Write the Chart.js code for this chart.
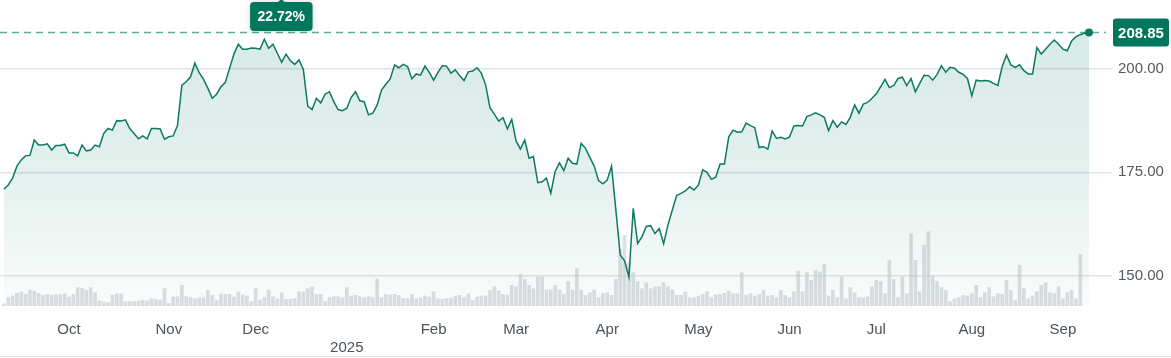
<!DOCTYPE html>
<html>
<head>
<meta charset="utf-8">
<script src="https://cdn.jsdelivr.net/npm/chart.js@4.4.1/dist/chart.umd.min.js"></script>
<style>
  html, body { margin: 0; padding: 0; background: #ffffff; }
  #wrap { position: relative; width: 1171px; height: 358px; }
  canvas { display: block; }
</style>
</head>
<body>
<div id="wrap"><canvas id="c" width="1171" height="358"></canvas></div>
<script>
// ---- Data (one point per trading day, Sep 2024 - Sep 2025) ----
const prices = [
  170.9, 171.9, 173.6, 176.5, 178.0, 179.0, 179.1, 182.8, 181.6, 181.6,
  181.9, 180.4, 181.5, 181.5, 181.8, 179.7, 179.7, 179.0, 181.6, 180.2,
  180.4, 181.6, 181.2, 184.4, 185.6, 185.2, 187.5, 187.4, 187.7, 185.6,
  184.4, 183.1, 183.8, 183.1, 185.6, 185.6, 185.5, 183.0, 183.6, 183.8,
  186.4, 196.1, 196.9, 198.1, 201.4, 199.1, 197.5, 195.3, 192.9, 193.9,
  195.7, 196.7, 200.2, 203.6, 206.0, 204.8, 204.8, 205.1, 205.0, 204.8,
  207.2, 205.0, 206.0, 203.8, 201.6, 203.6, 202.0, 201.1, 202.2, 199.8,
  191.0, 190.2, 192.9, 191.8, 193.9, 194.5, 192.1, 190.2, 189.9, 190.5,
  193.1, 194.5, 192.3, 192.1, 188.9, 189.3, 191.3, 194.9, 196.3, 197.6,
  201.0, 200.3, 201.1, 200.6, 197.6, 198.8, 198.5, 200.7, 199.2, 197.3,
  199.2, 200.8, 200.7, 199.0, 199.8, 198.4, 197.2, 199.3, 199.5, 200.3,
  199.0, 196.1, 190.6, 189.1, 187.4, 188.2, 185.5, 187.8, 182.6, 180.6,
  182.8, 178.4, 178.8, 172.5, 172.7, 173.6, 169.9, 175.2, 177.3, 175.4,
  178.4, 177.2, 177.0, 182.0, 180.8, 178.6, 176.5, 173.0, 172.2, 173.1,
  176.5, 165.8, 155.0, 153.6, 149.7, 166.3, 157.8, 159.4, 161.9, 162.1,
  160.2, 161.4, 157.7, 162.3, 165.9, 169.4, 169.9, 170.5, 171.5, 170.7,
  171.9, 175.6, 175.0, 173.3, 173.8, 177.0, 177.0, 183.6, 185.2, 184.7,
  184.8, 186.9, 186.3, 185.8, 181.0, 181.2, 180.6, 185.0, 183.2, 183.5,
  183.1, 183.5, 186.2, 186.3, 186.2, 188.5, 188.9, 189.4, 188.9, 188.3,
  185.1, 187.5, 185.9, 187.2, 186.6, 188.3, 191.3, 189.3, 191.5, 191.9,
  192.9, 194.0, 195.7, 197.5, 195.5, 196.0, 197.7, 198.0, 196.0, 197.7,
  194.5, 196.5, 198.5, 198.4, 197.3, 198.7, 200.8, 199.2, 200.4, 200.2,
  199.2, 198.7, 197.7, 193.5, 197.3, 197.1, 197.2, 197.1, 196.5, 196.0,
  200.6, 203.4, 201.0, 200.4, 201.0, 199.6, 198.8, 198.8, 205.2, 203.6,
  204.8, 206.0, 207.0, 206.0, 204.8, 204.4, 206.8, 207.8, 208.3, 208.7,
  208.85
];

// volume in millions of shares
const volumes = [
  2.3, 8.3, 10, 12.7, 14, 11.7, 16, 15, 12.7, 10.7,
  11.7, 10.7, 11.3, 11.3, 12.3, 9, 11.7, 18.3, 17.7, 15.7,
  18.3, 13.3, 5, 4, 3.3, 10.7, 12.3, 12, 4.3, 4.3,
  4.7, 5, 5.7, 5, 7.3, 6.7, 6, 17.3, 2.7, 9,
  9.3, 20.7, 9.3, 8.3, 7.3, 8, 8, 15.7, 10.7, 6,
  12, 11.7, 11.7, 9, 14, 11, 10, 4.3, 17.3, 6,
  8.3, 16, 9.3, 7, 13.3, 6.7, 6.7, 7.3, 14.3, 14,
  17.3, 19.3, 11.7, 11.7, 4.3, 8.3, 9.3, 9.3, 8.3, 18.3,
  10, 10.7, 9.3, 8.3, 9.3, 8.3, 27,
  8.3, 11.7, 11, 11.7, 10.7, 7.7, 7.3, 11.7, 7.3, 8.3,
  10, 9, 14.3, 7.3, 6.7, 7.3, 7.7, 10, 10.7, 8.3,
  12, 5.7, 9, 10, 10, 15.7, 19.3, 15, 11.7, 11,
  20.7, 19.3, 31.7, 26.7, 20.7, 17.3, 29.3, 29, 16, 16,
  20.7, 16, 11.7, 24.3, 16, 37.3, 16, 10.7, 13.3, 16,
  8.3, 12.7, 13.3, 10.7, 26.7, 56.7, 70.7, 43.3, 33.3, 24.3,
  17.3, 23.3, 17.3, 19.3, 19.3, 23.3, 19.3, 16, 10.7, 10.7,
  14, 8.3, 8.3, 10, 11.7, 14.3, 8.3, 11, 11.7, 12.7,
  15, 12.3, 12.3, 33.3, 10.7, 12.3, 10, 11.7, 15.7, 10,
  10.7, 8.3,
  15.7, 10.7, 8.3, 14.3, 35, 14.3, 33.3, 25.7, 35.7, 34,
  41.7, 10, 15.7, 8.3, 29, 7.3, 18.3, 13.3, 8.3, 8.3,
  9.3, 19.3, 25.7, 24.3, 12.3, 45.7, 26.7, 8.3, 29, 12.3,
  72.3, 45.7, 14.3, 60.7, 74.3, 29.3, 24.3, 18.3, 15.7, 4.3,
  7.3, 8.3, 10.7, 10, 12.3, 20.7, 8.3, 13.3, 18.3, 9.3,
  12.3, 11.7, 25.7, 15.7, 5.7, 40.7, 17.3, 7.3, 10, 14.3,
  20.7, 23.3, 13.3, 12.3, 19.3, 7.3, 13.3, 15.7, 7.3, 51.7,
  null, null
];

const monthTickIndex  = [15, 38, 58, 79, 99, 118, 139, 160, 181, 201, 223, 244];
const monthTickLabels = ['Oct', 'Nov', 'Dec', ['', '2025'], 'Feb', 'Mar', 'Apr', 'May', 'Jun', 'Jul', 'Aug', 'Sep'];
const priceTicks = [150, 175, 200];
const lastPrice = 208.85;
const changeLabel = '22.72%';

// ---- Styling ----
const GREEN = '#0c7a61';
const BOX_GREEN = '#00775c';
const FONT = "'Liberation Sans', Arial, sans-serif";

const lastIdx = prices.length - 1;
// the change badge sits over the first-half high
const firstHalf = prices.slice(0, 120);
const peakIdx = firstHalf.indexOf(Math.max(...firstHalf));

const annotations = {
  id: 'annotations',
  beforeDatasetsDraw(chart) {
    const { ctx, chartArea, scales } = chart;
    const y = Math.round(scales.y.getPixelForValue(lastPrice)) + 0.5;
    ctx.save();
    ctx.strokeStyle = 'rgba(40,145,118,0.75)';
    ctx.lineWidth = 1.5;
    ctx.setLineDash([7, 5]);
    ctx.beginPath();
    ctx.moveTo(chartArea.left, y);
    ctx.lineTo(chartArea.right - 6, y);
    ctx.stroke();
    ctx.restore();
  },
  afterDraw(chart) {
    const { ctx, chartArea, scales } = chart;
    ctx.save();
    // last price box
    const yP = scales.y.getPixelForValue(lastPrice);
    const bx = chartArea.right + 1, bw = 56, bh = 28;
    ctx.fillStyle = BOX_GREEN;
    ctx.beginPath();
    ctx.roundRect(bx, yP - bh / 2, bw, bh, 3);
    ctx.fill();
    ctx.fillStyle = '#ffffff';
    ctx.font = 'bold 15px ' + FONT;
    ctx.textAlign = 'center';
    ctx.textBaseline = 'middle';
    ctx.fillText(lastPrice.toFixed(2), bx + bw / 2, yP + 1);

    // change label near the first-half high
    const cx = scales.x.getPixelForValue(peakIdx) + 17;
    ctx.font = 'bold 14px ' + FONT;
    const tw = ctx.measureText(changeLabel).width;
    const w = tw + 15, h = 29, top = 2;
    ctx.shadowColor = 'rgba(0,0,0,0.18)';
    ctx.shadowBlur = 6;
    ctx.fillStyle = BOX_GREEN;
    ctx.beginPath();
    ctx.roundRect(cx - w / 2, top, w, h, 4);
    ctx.fill();
    ctx.shadowBlur = 0;
    ctx.shadowColor = 'transparent';
    ctx.beginPath();
    ctx.moveTo(cx - 4, top + 0.5);
    ctx.lineTo(cx, top - 3);
    ctx.lineTo(cx + 4, top + 0.5);
    ctx.closePath();
    ctx.fill();
    ctx.fillStyle = '#ffffff';
    ctx.fillText(changeLabel, cx, top + h / 2 + 1);

    // bottom border line
    ctx.strokeStyle = '#e2e3e5';
    ctx.lineWidth = 1;
    ctx.beginPath();
    ctx.moveTo(0, chart.height - 1.5);
    ctx.lineTo(chart.width, chart.height - 1.5);
    ctx.stroke();
    ctx.restore();
  }
};

const ctx = document.getElementById('c').getContext('2d');
new Chart(ctx, {
  type: 'line',
  data: {
    datasets: [
      {
        type: 'line',
        label: 'Price',
        data: prices.map((v, i) => ({ x: i, y: v })),
        yAxisID: 'y',
        borderColor: GREEN,
        borderWidth: 1.5,
        tension: 0,
        pointRadius: (c) => (c.dataIndex === lastIdx ? 4 : 0),
        pointHoverRadius: 0,
        pointBackgroundColor: GREEN,
        pointBorderWidth: 0,
        fill: 'start',
        backgroundColor: (c) => {
          const area = c.chart.chartArea;
          if (!area) return 'rgba(0,122,94,0.1)';
          const g = c.chart.ctx.createLinearGradient(0, area.top, 0, area.bottom);
          g.addColorStop(0, 'rgba(0,122,94,0.165)');
          g.addColorStop(0.55, 'rgba(0,122,94,0.11)');
          g.addColorStop(1, 'rgba(0,122,94,0.025)');
          return g;
        },
        order: 1
      },
      {
        type: 'bar',
        label: 'Volume',
        data: volumes.map((v, i) => ({ x: i, y: v })),
        yAxisID: 'vol',
        backgroundColor: 'rgba(200,203,208,0.62)',
        barThickness: 3,
        borderWidth: 0,
        order: 2
      }
    ]
  },
  options: {
    responsive: false,
    animation: false,
    devicePixelRatio: 1,
    layout: { padding: 0, autoPadding: false },
    plugins: { legend: { display: false }, tooltip: { enabled: false } },
    events: [],
    scales: {
      x: {
        type: 'linear',
        min: -0.9,
        max: 255.3,
        offset: false,
        grid: { display: false, offset: false },
        border: { display: false },
        afterBuildTicks: (s) => { s.ticks = monthTickIndex.map(v => ({ value: v })); },
        afterFit: (s) => { s.height = 52; s.paddingLeft = 0; s.paddingRight = 0; },
        ticks: {
          autoSkip: false,
          maxRotation: 0,
          padding: 7,
          color: '#4d535a',
          font: { family: FONT, size: 15, lineHeight: 1.2 },
          callback: (v) => {
            const k = monthTickIndex.indexOf(v);
            return k >= 0 ? monthTickLabels[k] : '';
          }
        }
      },
      y: {
        position: 'right',
        min: 142.66,
        max: 216.69,
        afterBuildTicks: (s) => { s.ticks = priceTicks.map(v => ({ value: v })); },
        afterFit: (s) => { s.width = 59; s.paddingTop = 0; s.paddingBottom = 0; },
        grid: { color: '#e3e4e6', lineWidth: 1.5, drawTicks: false },
        border: { display: false },
        ticks: {
          padding: 6,
          color: '#555a60',
          font: { family: FONT, size: 15 },
          callback: (v) => Number(v).toFixed(2)
        }
      },
      vol: {
        display: false,
        min: 0,
        max: 306,
        afterFit: (s) => { s.width = 0; s.paddingTop = 0; s.paddingBottom = 0; }
      }
    }
  },
  plugins: [annotations]
});
</script>
</body>
</html>
